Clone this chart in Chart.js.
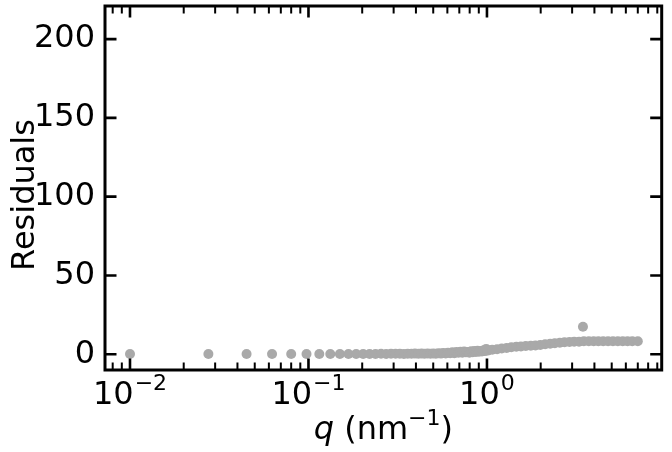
<!DOCTYPE html>
<html><head><meta charset="utf-8">
<script src="https://cdn.jsdelivr.net/npm/chart.js@4.4.1/dist/chart.umd.min.js"></script>
<style>html,body{margin:0;padding:0;background:#fff;overflow:hidden}#wrap{width:672px;height:452px}</style>
</head><body><div id="wrap"><canvas id="c" width="672" height="452"></canvas></div>
<script>
// Scattering vector q (nm^-1)
const qValues = [
  0.01, 0.0275, 0.045, 0.0625, 0.08, 0.0975, 0.115, 0.1325, 0.15, 0.1675,
  0.185, 0.2025, 0.22, 0.2375, 0.255, 0.2725, 0.29, 0.3075, 0.325, 0.3425,
  0.36, 0.3775, 0.395, 0.4125, 0.43, 0.4475, 0.465, 0.4825, 0.5, 0.5175,
  0.535, 0.5525, 0.57, 0.5875, 0.605, 0.6225, 0.64, 0.6575, 0.675, 0.6925,
  0.71, 0.7275, 0.745, 0.7625, 0.78, 0.7975, 0.815, 0.8325, 0.85, 0.8675,
  0.885, 0.9025, 0.92, 0.9375, 0.955, 0.9725, 0.99, 1.0075,
  1.07, 1.14, 1.21, 1.29, 1.37, 1.46, 1.55, 1.65, 1.76, 1.87,
  1.99, 2.12, 2.26, 2.40, 2.56, 2.72, 2.90, 3.08, 3.28, 3.45,
  3.49, 3.72, 3.96, 4.21, 4.48, 4.77, 5.08, 5.41, 5.76, 6.13,
  6.52, 7.0
];
// Residuals
const residuals = [
  0.1, 0.1, 0.1, 0.1, 0.1, 0.1, 0.2, 0.1, 0.2, 0.2,
  0.2, 0.2, 0.2, 0.2, 0.3, 0.2, 0.3, 0.3, 0.3, 0.2,
  0.3, 0.3, 0.4, 0.3, 0.4, 0.3, 0.5, 0.3, 0.5, 0.3,
  0.6, 0.4, 0.8, 0.5, 1.0, 0.7, 1.2, 0.6, 1.4, 0.9,
  1.6, 1.0, 1.8, 1.2, 1.5, 0.9, 1.9, 1.3, 2.1, 1.4,
  2.2, 1.6, 2.0, 1.7, 2.4, 2.0, 3.4, 2.3,
  2.8, 3.2, 3.7, 4.0, 4.4, 4.7, 4.9, 5.2, 5.4, 5.6,
  5.9, 6.3, 6.7, 7.0, 7.3, 7.6, 7.8, 8.0, 8.0, 17.4,
  8.2, 8.3, 8.3, 8.3, 8.3, 8.3, 8.3, 8.3, 8.3, 8.3,
  8.3, 8.3
];
const xMajorTicks = [0.01, 0.1, 1];
const xTickBases = ['10', '10', '10'];
const xTickExponents = ['\u22122', '\u22121', '0'];
const yTicks = [0, 50, 100, 150, 200];
const yTickLabels = ['0', '50', '100', '150', '200'];
const xTitle = { italic: 'q', rest: ' (nm', sup: '\u22121', close: ')' };
const yTitle = 'Residuals';

const FONT = 'DejaVu Sans';
const FS = 32;
const FSUP = 22;

const frameTicks = {
  id: 'frameTicks',
  afterLayout(chart) {
    const s = chart.scales.y;
    if (!s._shifted) {
      const orig = s.drawTitle.bind(s);
      s.drawTitle = function () {
        const c = this.ctx; c.save(); c.translate(0, 7); orig(); c.restore();
      };
      s._shifted = true;
    }
  },
  afterDraw(chart) {
    const ctx = chart.ctx, a = chart.chartArea;
    const xs = chart.scales.x, ys = chart.scales.y;
    ctx.save();
    ctx.strokeStyle = '#000';
    ctx.lineCap = 'butt';
    const minors = [];
    for (let e = -3; e <= 0; e++) for (let m = 2; m <= 9; m++) {
      const v = m * Math.pow(10, e);
      if (v > xs.min && v < xs.max) minors.push(v);
    }
    ctx.lineWidth = 2;
    minors.forEach(v => {
      const px = xs.getPixelForValue(v);
      ctx.beginPath();
      ctx.moveTo(px, a.bottom); ctx.lineTo(px, a.bottom - 7.5);
      ctx.moveTo(px, a.top); ctx.lineTo(px, a.top + 7.5);
      ctx.stroke();
    });
    ctx.lineWidth = 2.6;
    xMajorTicks.forEach(v => {
      const px = xs.getPixelForValue(v);
      ctx.beginPath();
      ctx.moveTo(px, a.bottom); ctx.lineTo(px, a.bottom - 11.5);
      ctx.moveTo(px, a.top); ctx.lineTo(px, a.top + 11.5);
      ctx.stroke();
    });
    yTicks.forEach(v => {
      const py = ys.getPixelForValue(v);
      ctx.beginPath();
      ctx.moveTo(a.left, py); ctx.lineTo(a.left + 11.5, py);
      ctx.moveTo(a.right, py); ctx.lineTo(a.right - 11.5, py);
      ctx.stroke();
    });
    ctx.lineWidth = 3;
    ctx.strokeRect(a.left, a.top, a.right - a.left, a.bottom - a.top);

    ctx.fillStyle = '#000';
    ctx.textBaseline = 'alphabetic';
    ctx.textAlign = 'left';
    const fMain = FS + 'px "' + FONT + '"';
    const fIt = 'oblique ' + FS + 'px "' + FONT + '"';
    const fSup = FSUP + 'px "' + FONT + '"';
    // x tick labels (mathtext style 10^n)
    const labBase = 404;
    xMajorTicks.forEach((v, i) => {
      ctx.font = fMain; const wb = ctx.measureText(xTickBases[i]).width;
      ctx.font = fSup; const we = ctx.measureText(xTickExponents[i]).width;
      const px = xs.getPixelForValue(v);
      let x = px - (wb + we + 1) / 2;
      ctx.font = fMain; ctx.fillText(xTickBases[i], x, labBase);
      ctx.font = fSup; ctx.fillText(xTickExponents[i], x + wb + 1, labBase - 14);
    });
    // x title
    ctx.font = fIt; const w1 = ctx.measureText(xTitle.italic).width;
    ctx.font = fMain; const w2 = ctx.measureText(xTitle.rest).width;
    ctx.font = fSup; const w3 = ctx.measureText(xTitle.sup).width;
    ctx.font = fMain; const w4 = ctx.measureText(xTitle.close).width;
    const total = w1 + w2 + w3 + w4;
    let x = (a.left + a.right) / 2 - total / 2;
    const base = 439;
    ctx.font = fIt; ctx.fillText(xTitle.italic, x, base); x += w1;
    ctx.font = fMain; ctx.fillText(xTitle.rest, x, base); x += w2;
    ctx.font = fSup; ctx.fillText(xTitle.sup, x, base - 14); x += w3;
    ctx.font = fMain; ctx.fillText(xTitle.close, x, base);
    ctx.restore();
  }
};

new Chart(document.getElementById('c'), {
  type: 'scatter',
  data: {
    datasets: [{
      data: qValues.map((q, i) => ({ x: q, y: residuals[i] })),
      backgroundColor: '#a9a9a9',
      borderWidth: 0,
      pointRadius: 5,
      pointHoverRadius: 5
    }]
  },
  options: {
    responsive: false,
    devicePixelRatio: 1,
    animation: false,
    events: [],
    layout: { padding: { left: 0, right: 10.3, top: 6, bottom: 0 } },
    plugins: { legend: { display: false }, tooltip: { enabled: false } },
    scales: {
      x: {
        type: 'logarithmic',
        min: Math.pow(10, -2.14),
        max: Math.pow(10, 0.979),
        grid: { display: false, drawTicks: false },
        border: { display: false },
        afterBuildTicks: s => { s.ticks = xMajorTicks.map(v => ({ value: v, major: true })); },
        afterFit: s => { s.height = 82; s.paddingLeft = 0; s.paddingRight = 0; },
        ticks: { display: false }
      },
      y: {
        type: 'linear',
        min: -10,
        max: 221,
        grid: { display: false, drawTicks: false },
        border: { display: false },
        afterBuildTicks: s => { s.ticks = yTicks.map(v => ({ value: v })); },
        afterFit: s => { s.width = 105; s.paddingTop = 0; s.paddingBottom = 0; },
        title: {
          display: true, text: yTitle, color: '#000',
          font: { family: FONT, size: FS },
          padding: { top: 6, bottom: 0 }
        },
        ticks: {
          color: '#000', padding: 10,
          font: { family: FONT, size: FS },
          callback: v => { const i = yTicks.indexOf(v); return i >= 0 ? yTickLabels[i] : ''; }
        }
      }
    }
  },
  plugins: [frameTicks]
});
</script></body></html>
